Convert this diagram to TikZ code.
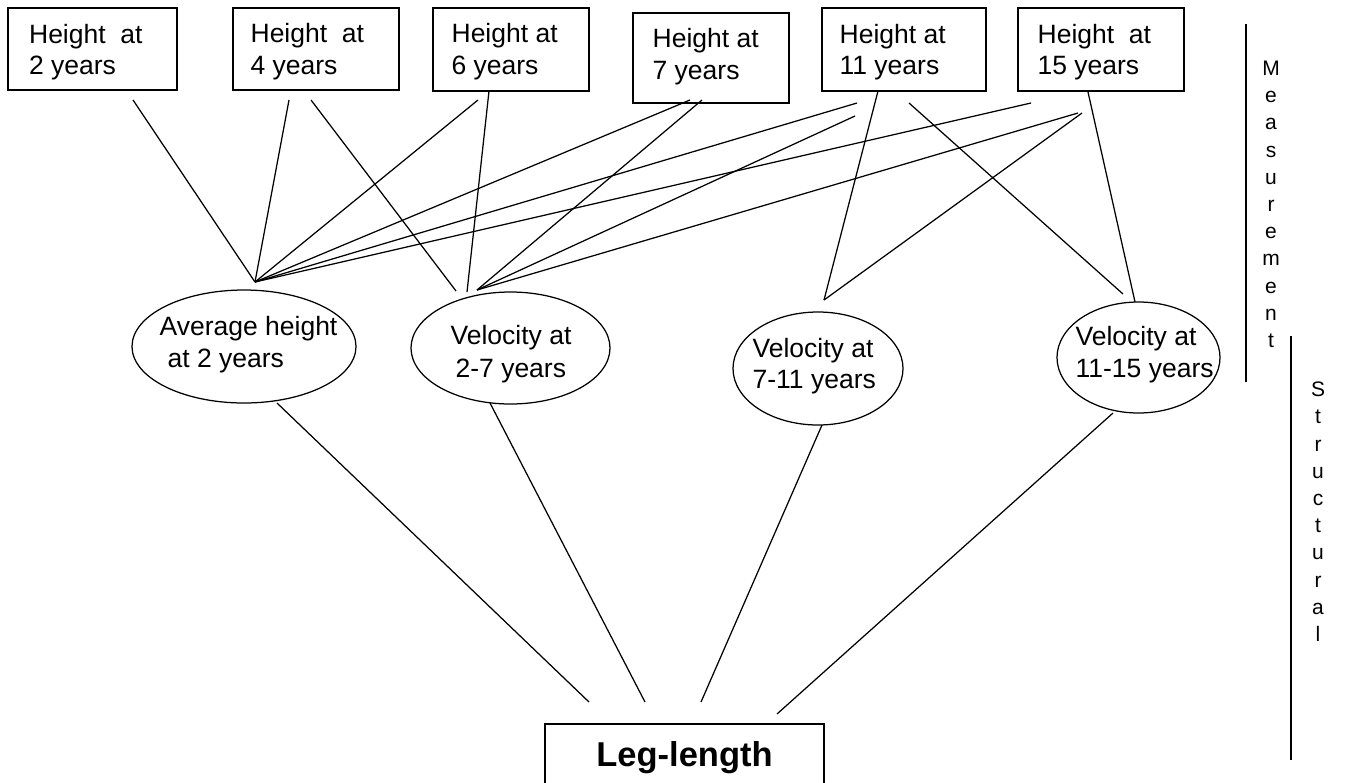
\documentclass[tikz,border=0pt]{standalone}
\usepackage{fontspec}
\setmainfont{Liberation Sans}
\usetikzlibrary{shapes.geometric}
\begin{document}
\begin{tikzpicture}[x=1pt,y=-1pt,line width=1.25pt,
  box/.style={draw,rectangle,inner sep=0},
  ell/.style={draw,ellipse,inner sep=0},
  lab/.style={inner sep=0,anchor=base west,font=\fontsize{26.5}{30}\selectfont},
  side/.style={inner sep=0,anchor=north,align=center,font=\fontsize{21}{27.2}\selectfont},
  link/.style={line width=1.25pt}]
\useasboundingbox (0,0) rectangle (1348,782);
\clip (0,0) rectangle (1348,782);
% top boxes
\node[box,minimum width=169,minimum height=82] (b1) at (92.5,49) {};
\node[box,minimum width=166,minimum height=82] (b2) at (316,49) {};
\node[box,minimum width=156,minimum height=83] (b3) at (511,49.5) {};
\node[box,minimum width=156,minimum height=90] (b4) at (711,58) {};
\node[box,minimum width=164,minimum height=83] (b5) at (904,49.5) {};
\node[box,minimum width=166,minimum height=83] (b6) at (1101,49.5) {};
\node[lab] (b1a) at (28.5,43) {Height\ \ at};
\node[lab] (b1b) at (28.5,74.7) {2 years};
\node[lab] (b2a) at (250,42) {Height\ \ at};
\node[lab] (b2b) at (250,74) {4 years};
\node[lab] (b3a) at (451,42) {Height at};
\node[lab] (b3b) at (451,74) {6 years};
\node[lab] (b4a) at (652,47) {Height at};
\node[lab] (b4b) at (652,79) {7 years};
\node[lab] (b5a) at (839,43) {Height at};
\node[lab] (b5b) at (839,74) {11 years};
\node[lab] (b6a) at (1037,43) {Height\ \ at};
\node[lab] (b6b) at (1037,74) {15 years};
% ellipses
\node[ell,minimum width=224,minimum height=113] (e1) at (244,346.5) {};
\node[ell,minimum width=199,minimum height=112] (e2) at (510.5,348) {};
\node[ell,minimum width=170,minimum height=113] (e3) at (818,368.5) {};
\node[ell,minimum width=163,minimum height=111] (e4) at (1138.5,357.5) {};
\node[lab] (e1a) at (159,335) {Average height};
\node[lab] (e1b) at (167,367) {at 2 years};
\node[lab] (e2a) at (450,344) {Velocity at};
\node[lab] (e2b) at (455,377) {2-7 years};
\node[lab] (e3a) at (752,357) {Velocity at};
\node[lab] (e3b) at (752,388) {7-11 years};
\node[lab] (e4a) at (1075,345) {Velocity at};
\node[lab] (e4b) at (1075,377) {11-15 years};
% leg-length
\node[box,minimum width=279,minimum height=67,font=\bfseries\fontsize{34.5}{40}\selectfont] (leg) at (684.5,757.5) {Leg-length};
% connector end points
\coordinate (c1) at (255,282);
\coordinate (c2a) at (456,291);
\coordinate (c2b) at (467,292);
\coordinate (c2c) at (477,290);
\coordinate (c3) at (824,300);
\coordinate (c4a) at (1123,294);
\coordinate (c4b) at (1135,302);
\coordinate (s1) at (133,100);
\coordinate (s2a) at (289,100);
\coordinate (s2b) at (311,100);
\coordinate (s3a) at (478,100);
\coordinate (s3b) at (489,91);
\coordinate (s4a) at (690,100);
\coordinate (s4b) at (702,100);
\coordinate (s5a) at (857,103);
\coordinate (s5b) at (855,116);
\coordinate (s5c) at (878,91);
\coordinate (s5d) at (909,103);
\coordinate (s6a) at (1031,103);
\coordinate (s6b) at (1078,113);
\coordinate (s6c) at (1082,113);
\coordinate (s6d) at (1088,92);
\coordinate (d1) at (277,403);
\coordinate (d2) at (490,403);
\coordinate (d3) at (822,425);
\coordinate (d4) at (1113,413);
\coordinate (f1) at (589,702);
\coordinate (f2) at (645,702);
\coordinate (f3) at (701,702);
\coordinate (f4) at (777,714);
% measurement connectors
\draw[link] (s1) -- (c1);
\draw[link] (s2a) -- (c1);
\draw[link] (s2b) -- (c2a);
\draw[link] (s3a) -- (c1);
\draw[link] (s3b) -- (c2b);
\draw[link] (s4a) -- (c1);
\draw[link] (s4b) -- (c2c);
\draw[link] (s5a) -- (c1);
\draw[link] (s5b) -- (c2c);
\draw[link] (s5c) -- (c3);
\draw[link] (s5d) -- (c4a);
\draw[link] (s6a) -- (c1);
\draw[link] (s6b) -- (c2c);
\draw[link] (s6c) -- (c3);
\draw[link] (s6d) -- (c4b);
% structural connectors
\draw[link] (d1) -- (f1);
\draw[link] (d2) -- (f2);
\draw[link] (d3) -- (f3);
\draw[link] (d4) -- (f4);
% side labels
\coordinate (m1) at (1246,24);
\coordinate (m2) at (1246,382);
\coordinate (t1) at (1291,336);
\coordinate (t2) at (1291,760);
\draw[link] (m1) -- (m2);
\draw[link] (t1) -- (t2);
\node[side] (meas) at (1271,60.5) {M\\e\\a\\s\\u\\r\\e\\m\\e\\n\\t};
\node[side] (stru) at (1318,381.5) {S\\t\\r\\u\\c\\t\\u\\r\\a\\l};
\end{tikzpicture}
\end{document}
